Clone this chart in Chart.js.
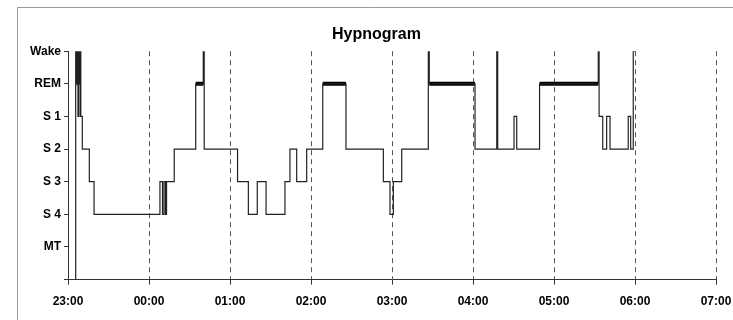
<!DOCTYPE html>
<html>
<head>
<meta charset="utf-8">
<title>Hypnogram</title>
<script src="https://cdn.jsdelivr.net/npm/chart.js@4.4.1/dist/chart.umd.min.js"></script>
<style>
  html, body { margin: 0; padding: 0; background: #fff; }
  #contenedor { width: 733px; height: 320px; position: relative; }
</style>
</head>
<body>
<div id="contenedor"><canvas id="hipnograma"></canvas></div>
<script>
// Minutos desde las 23:00 en que empieza cada fase
const tiempos = [
    5.5, 5.7, 6.5, 6.9, 7.4, 7.8, 8.3, 8.7, 9.0, 9.3, 9.5, 10.6, 15.8, 19.3,
    68.1, 70.0, 71.1, 72.2, 73.0, 78.7, 94.6, 100.2, 100.9,
    125.6, 133.6, 140.2, 146.7, 160.7, 164.4, 169.4, 176.8, 188.7, 205.9,
    233.6, 238.5, 241.0, 247.2, 266.9, 267.6, 301.5, 317.6, 318.3,
    330.4, 332.4, 349.3, 392.8, 393.4, 396.1, 399.0, 401.5,
    415.0, 416.8, 418.7, 420.5
];
// Fase: 0 = sin puntuar, 1 = MT, 2 = S4, 3 = S3, 4 = S2, 5 = S1, 6 = REM, 7 = Wake
const fases = [
    0, 7, 6, 7, 5, 7, 6, 7, 5, 7, 5, 4, 3, 2,
    3, 2, 3, 2, 3, 4, 6, 7, 4,
    3, 2, 3, 2, 3, 4, 3, 4, 6, 4,
    3, 2, 3, 4, 7, 6, 4, 7, 4,
    5, 4, 6, 7, 5, 4, 5, 4,
    5, 4, 7, 7
];
const etiquetasFase = ['', 'MT', 'S 4', 'S 3', 'S 2', 'S 1', 'REM', 'Wake'];
const etiquetasHora = ['23:00', '00:00', '01:00', '02:00', '03:00', '04:00', '05:00', '06:00', '07:00'];
const FASE_REM = 6;

const fuente = '"Liberation Sans", Arial, sans-serif';

// Puntos del trazo principal
const puntos = tiempos.map((t, i) => ({ x: t, y: fases[i] }));

// Tramos REM (línea gruesa), separados con huecos
const tramosRem = [];
for (let i = 0; i < fases.length - 1; i++) {
    if (fases[i] === FASE_REM) {
        tramosRem.push({ x: tiempos[i], y: FASE_REM });
        tramosRem.push({ x: tiempos[i + 1], y: FASE_REM });
        tramosRem.push({ x: tiempos[i + 1], y: null });
    }
}

// Marco gris alrededor de la figura
const marco = {
    id: 'marco',
    beforeDraw(chart) {
        const ctx = chart.ctx;
        ctx.save();
        ctx.strokeStyle = '#9a9a9a';
        ctx.lineWidth = 1;
        ctx.beginPath();
        ctx.moveTo(17.5, chart.height);
        ctx.lineTo(17.5, 7.5);
        ctx.lineTo(chart.width, 7.5);
        ctx.stroke();
        ctx.restore();
    }
};

new Chart(document.getElementById('hipnograma').getContext('2d'), {
    type: 'line',
    data: {
        datasets: [
            {
                label: 'Fases',
                data: puntos,
                stepped: true,
                borderColor: '#222',
                borderWidth: 1.2,
                pointRadius: 0,
                fill: false
            },
            {
                label: 'REM',
                data: tramosRem,
                borderColor: '#000',
                borderWidth: 4,
                borderCapStyle: 'butt',
                pointRadius: 0,
                spanGaps: false,
                fill: false
            }
        ]
    },
    options: {
        responsive: true,
        maintainAspectRatio: false,
        animation: false,
        layout: { padding: { left: 20, right: 0, top: 12, bottom: 1 } },
        plugins: {
            legend: { display: false },
            tooltip: { enabled: false },
            title: {
                display: true,
                text: 'Hypnogram',
                color: '#000',
                font: { family: fuente, size: 16, weight: 'bold' },
                padding: { top: 13, bottom: 7 }
            }
        },
        scales: {
            x: {
                type: 'linear',
                min: 0,
                max: 480,
                ticks: {
                    stepSize: 60,
                    maxRotation: 0,
                    autoSkip: false,
                    padding: 10,
                    color: '#000',
                    font: { family: fuente, size: 12, weight: 'bold' },
                    callback: v => etiquetasHora[v / 60]
                },
                grid: {
                    color: c => c.index === 0 ? 'rgba(0,0,0,0)' : '#555',
                    tickColor: '#333',
                    tickLength: 5,
                    lineWidth: 1
                },
                border: { color: '#333', width: 1, dash: [5, 4] },
                afterFit(escala) { escala.paddingRight = 17; }
            },
            y: {
                min: 0,
                max: 7,
                ticks: {
                    stepSize: 1,
                    padding: 3,
                    color: '#000',
                    font: { family: fuente, size: 12, weight: 'bold' },
                    callback: v => etiquetasFase[v]
                },
                grid: { drawOnChartArea: false, tickColor: '#333', tickLength: 4 },
                border: { color: '#333', width: 1 },
                afterFit(escala) { escala.width = 48; }
            }
        }
    },
    plugins: [marco]
});
</script>
</body>
</html>
